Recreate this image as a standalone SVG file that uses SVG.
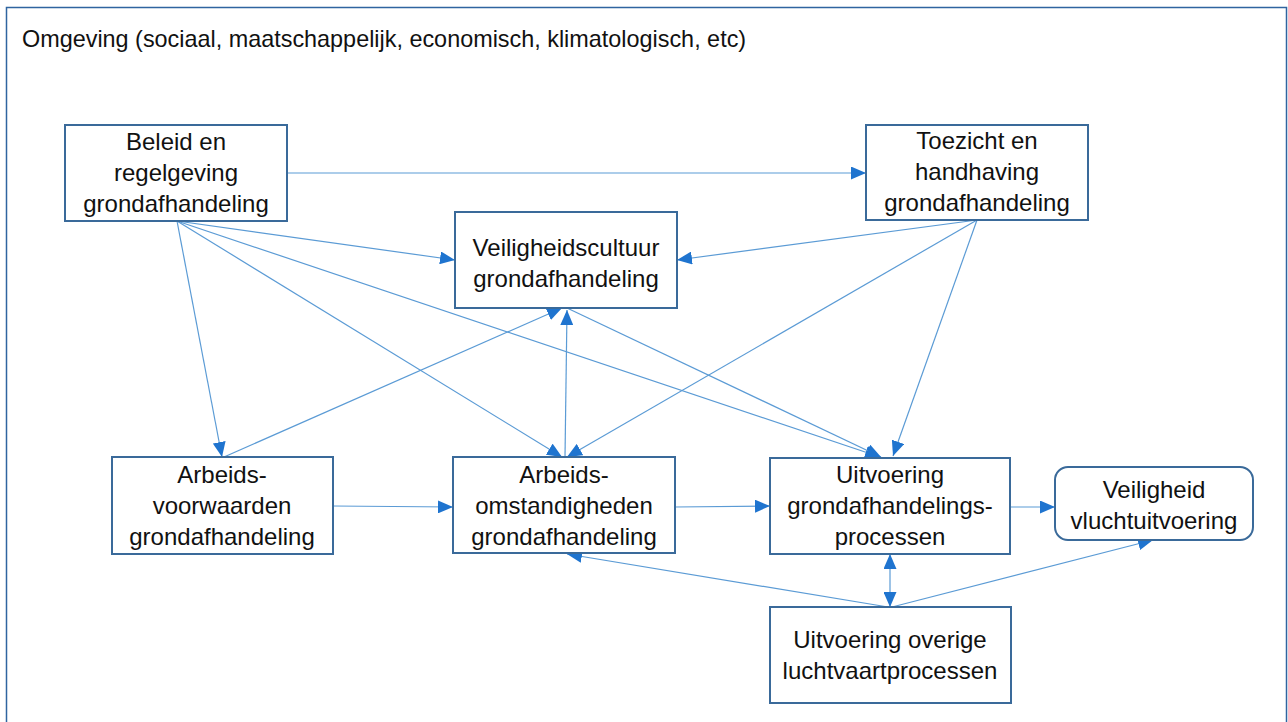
<svg xmlns="http://www.w3.org/2000/svg" width="1288" height="722" viewBox="0 0 1288 722">
<defs>
<style>
.frame{fill:#ffffff;stroke:#2F64A0;stroke-width:1.5}
.box{fill:#ffffff;stroke:#3A6A9A;stroke-width:2}
.t{font-family:"Liberation Sans",Arial,sans-serif;font-size:24px;fill:#111111;text-anchor:middle}
.title{font-family:"Liberation Sans",Arial,sans-serif;font-size:23.4px;fill:#111111}
.c{fill:none;stroke:#5B9BD5;stroke-width:1.2}
</style>
<marker id="ah" markerUnits="userSpaceOnUse" markerWidth="15" markerHeight="13" refX="15" refY="6.5" orient="auto">
<path d="M0,0 L15,6.5 L0,13 z" fill="#1F74CF"/>
</marker>
<marker id="as" markerUnits="userSpaceOnUse" markerWidth="15" markerHeight="13" refX="0" refY="6.5" orient="auto">
<path d="M15,0 L0,6.5 L15,13 z" fill="#1F74CF"/>
</marker>
</defs>
<rect class="frame" x="6.5" y="7.5" width="1280" height="730"/>
<text class="title" x="22" y="47">Omgeving (sociaal, maatschappelijk, economisch, klimatologisch, etc)</text>

<g id="connectors">
<line class="c" x1="287" y1="173" x2="866" y2="173" marker-end="url(#ah)"/>
<line class="c" x1="177" y1="221" x2="455" y2="260" marker-end="url(#ah)"/>
<line class="c" x1="177" y1="221" x2="222" y2="457" marker-end="url(#ah)"/>
<line class="c" x1="177" y1="221" x2="562" y2="457" marker-end="url(#ah)"/>
<line class="c" x1="177" y1="221" x2="880" y2="457" marker-end="url(#ah)"/>
<line class="c" x1="977" y1="220" x2="677" y2="260" marker-end="url(#ah)"/>
<line class="c" x1="977" y1="220" x2="567" y2="457" marker-end="url(#ah)"/>
<line class="c" x1="977" y1="220" x2="893" y2="456" marker-end="url(#ah)"/>
<line class="c" x1="224" y1="457" x2="562" y2="308" marker-end="url(#ah)"/>
<line class="c" x1="567" y1="308" x2="881" y2="457" marker-end="url(#ah)"/>
<line class="c" x1="565" y1="457" x2="567" y2="310" marker-end="url(#ah)"/>
<line class="c" x1="333" y1="506" x2="453" y2="507" marker-end="url(#ah)"/>
<line class="c" x1="675" y1="507" x2="770" y2="506" marker-end="url(#ah)"/>
<line class="c" x1="1010" y1="507" x2="1055" y2="507" marker-end="url(#ah)"/>
<line class="c" x1="890" y1="554" x2="890" y2="607" marker-start="url(#as)" marker-end="url(#ah)"/>
<line class="c" x1="888" y1="607" x2="567" y2="554" marker-end="url(#ah)"/>
<line class="c" x1="892" y1="607" x2="1153" y2="540" marker-end="url(#ah)"/>
</g>

<g id="beleid">
<rect class="box" x="65" y="125" width="222" height="96"/>
<text class="t" x="176" y="150">Beleid en</text>
<text class="t" x="176" y="181">regelgeving</text>
<text class="t" x="176" y="212">grondafhandeling</text>
</g>
<g id="toezicht">
<rect class="box" x="866" y="125" width="222" height="95"/>
<text class="t" x="977" y="149">Toezicht en</text>
<text class="t" x="977" y="180">handhaving</text>
<text class="t" x="977" y="211">grondafhandeling</text>
</g>
<g id="veiligheidscultuur">
<rect class="box" x="455" y="212" width="222" height="96"/>
<text class="t" x="566" y="256">Veiligheidscultuur</text>
<text class="t" x="566" y="287">grondafhandeling</text>
</g>
<g id="arbeidsvoorwaarden">
<rect class="box" x="112" y="457" width="221" height="97"/>
<text class="t" x="222" y="483">Arbeids-</text>
<text class="t" x="222" y="514">voorwaarden</text>
<text class="t" x="222" y="545">grondafhandeling</text>
</g>
<g id="arbeidsomstandigheden">
<rect class="box" x="453" y="457" width="222" height="96"/>
<text class="t" x="564" y="483">Arbeids-</text>
<text class="t" x="564" y="514">omstandigheden</text>
<text class="t" x="564" y="545">grondafhandeling</text>
</g>
<g id="uitvoering">
<rect class="box" x="770" y="458" width="240" height="96"/>
<text class="t" x="890" y="483">Uitvoering</text>
<text class="t" x="890" y="514">grondafhandelings-</text>
<text class="t" x="890" y="545">processen</text>
</g>
<g id="veiligheid-vlucht">
<rect class="box" x="1055" y="467" width="198" height="73" rx="13" ry="13"/>
<text class="t" x="1154" y="498">Veiligheid</text>
<text class="t" x="1154" y="529">vluchtuitvoering</text>
</g>
<g id="overige">
<rect class="box" x="770" y="607" width="241" height="96"/>
<text class="t" x="890" y="648">Uitvoering overige</text>
<text class="t" x="890" y="679">luchtvaartprocessen</text>
</g>
</svg>
